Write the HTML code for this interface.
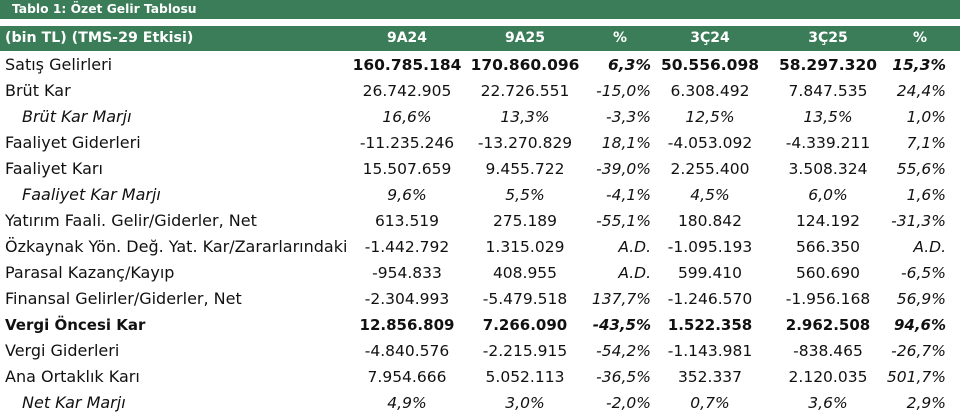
<!DOCTYPE html>
<html><head><meta charset="utf-8"><style>
body{margin:0;width:960px;height:420px;background:#fff;font-family:"DejaVu Sans","Liberation Sans",sans-serif;color:#111;overflow:hidden;position:relative}
.t{position:absolute;left:0;top:0;width:960px;height:19px;background:#3b7d58;color:#fff;font-size:12.3px;font-weight:bold;line-height:19px;padding-left:12px;box-sizing:border-box}
.h{position:absolute;left:0;top:26px;width:960px;height:25px;background:#3b7d58}
.r{position:absolute;left:0;width:960px;height:26px;line-height:26px;font-size:16px;white-space:nowrap}
.c{position:absolute;top:0}
.l{left:5px;width:343px;overflow:hidden}
.h .c{color:#fff;font-weight:bold;line-height:25px;font-size:14px}
.h .l{font-size:14.2px}
.n1{left:337px;width:140px;text-align:center}
.n2{left:455px;width:140px;text-align:center}
.p1{left:540px;width:111px;text-align:right}
.n4{left:640px;width:140px;text-align:center}
.n5{left:758px;width:140px;text-align:center}
.p2{left:835px;width:111px;text-align:right}
.r .c:not(.l){font-size:15.5px}
.r .p1,.r .p2{font-style:italic}
.r .b,.r.b .c{font-weight:bold;font-size:15px}
.r.b .l{font-size:15px}
.i .l{font-style:italic;left:22px}
.i .c{font-style:italic}
</style></head><body>
<div class="t">Tablo 1: Özet Gelir Tablosu</div>
<div class="h"><span class="c l">(bin TL) (TMS-29 Etkisi)</span><span class="c n1">9A24</span><span class="c n2">9A25</span><span class="c" style="left:560px;width:120px;text-align:center">%</span><span class="c n4">3Ç24</span><span class="c n5">3Ç25</span><span class="c" style="left:860px;width:120px;text-align:center">%</span></div>
<div class="r" style="top:52px"><span class="c l">Satış Gelirleri</span><span class="c n1 b">160.785.184</span><span class="c n2 b">170.860.096</span><span class="c p1 b">6,3%</span><span class="c n4 b">50.556.098</span><span class="c n5 b">58.297.320</span><span class="c p2 b">15,3%</span></div>
<div class="r" style="top:78px"><span class="c l">Brüt Kar</span><span class="c n1">26.742.905</span><span class="c n2">22.726.551</span><span class="c p1">-15,0%</span><span class="c n4">6.308.492</span><span class="c n5">7.847.535</span><span class="c p2">24,4%</span></div>
<div class="r i" style="top:104px"><span class="c l">Brüt Kar Marjı</span><span class="c n1">16,6%</span><span class="c n2">13,3%</span><span class="c p1">-3,3%</span><span class="c n4">12,5%</span><span class="c n5">13,5%</span><span class="c p2">1,0%</span></div>
<div class="r" style="top:130px"><span class="c l">Faaliyet Giderleri</span><span class="c n1">-11.235.246</span><span class="c n2">-13.270.829</span><span class="c p1">18,1%</span><span class="c n4">-4.053.092</span><span class="c n5">-4.339.211</span><span class="c p2">7,1%</span></div>
<div class="r" style="top:156px"><span class="c l">Faaliyet Karı</span><span class="c n1">15.507.659</span><span class="c n2">9.455.722</span><span class="c p1">-39,0%</span><span class="c n4">2.255.400</span><span class="c n5">3.508.324</span><span class="c p2">55,6%</span></div>
<div class="r i" style="top:182px"><span class="c l">Faaliyet Kar Marjı</span><span class="c n1">9,6%</span><span class="c n2">5,5%</span><span class="c p1">-4,1%</span><span class="c n4">4,5%</span><span class="c n5">6,0%</span><span class="c p2">1,6%</span></div>
<div class="r" style="top:208px"><span class="c l">Yatırım Faali. Gelir/Giderler, Net</span><span class="c n1">613.519</span><span class="c n2">275.189</span><span class="c p1">-55,1%</span><span class="c n4">180.842</span><span class="c n5">124.192</span><span class="c p2">-31,3%</span></div>
<div class="r" style="top:234px"><span class="c l">Özkaynak Yön. Değ. Yat. Kar/Zararlarındaki Paylar</span><span class="c n1">-1.442.792</span><span class="c n2">1.315.029</span><span class="c p1">A.D.</span><span class="c n4">-1.095.193</span><span class="c n5">566.350</span><span class="c p2">A.D.</span></div>
<div class="r" style="top:260px"><span class="c l">Parasal Kazanç/Kayıp</span><span class="c n1">-954.833</span><span class="c n2">408.955</span><span class="c p1">A.D.</span><span class="c n4">599.410</span><span class="c n5">560.690</span><span class="c p2">-6,5%</span></div>
<div class="r" style="top:286px"><span class="c l">Finansal Gelirler/Giderler, Net</span><span class="c n1">-2.304.993</span><span class="c n2">-5.479.518</span><span class="c p1">137,7%</span><span class="c n4">-1.246.570</span><span class="c n5">-1.956.168</span><span class="c p2">56,9%</span></div>
<div class="r b" style="top:312px"><span class="c l">Vergi Öncesi Kar</span><span class="c n1">12.856.809</span><span class="c n2">7.266.090</span><span class="c p1">-43,5%</span><span class="c n4">1.522.358</span><span class="c n5">2.962.508</span><span class="c p2">94,6%</span></div>
<div class="r" style="top:338px"><span class="c l">Vergi Giderleri</span><span class="c n1">-4.840.576</span><span class="c n2">-2.215.915</span><span class="c p1">-54,2%</span><span class="c n4">-1.143.981</span><span class="c n5">-838.465</span><span class="c p2">-26,7%</span></div>
<div class="r" style="top:364px"><span class="c l">Ana Ortaklık Karı</span><span class="c n1">7.954.666</span><span class="c n2">5.052.113</span><span class="c p1">-36,5%</span><span class="c n4">352.337</span><span class="c n5">2.120.035</span><span class="c p2">501,7%</span></div>
<div class="r i" style="top:390px"><span class="c l">Net Kar Marjı</span><span class="c n1">4,9%</span><span class="c n2">3,0%</span><span class="c p1">-2,0%</span><span class="c n4">0,7%</span><span class="c n5">3,6%</span><span class="c p2">2,9%</span></div>
</body></html>
